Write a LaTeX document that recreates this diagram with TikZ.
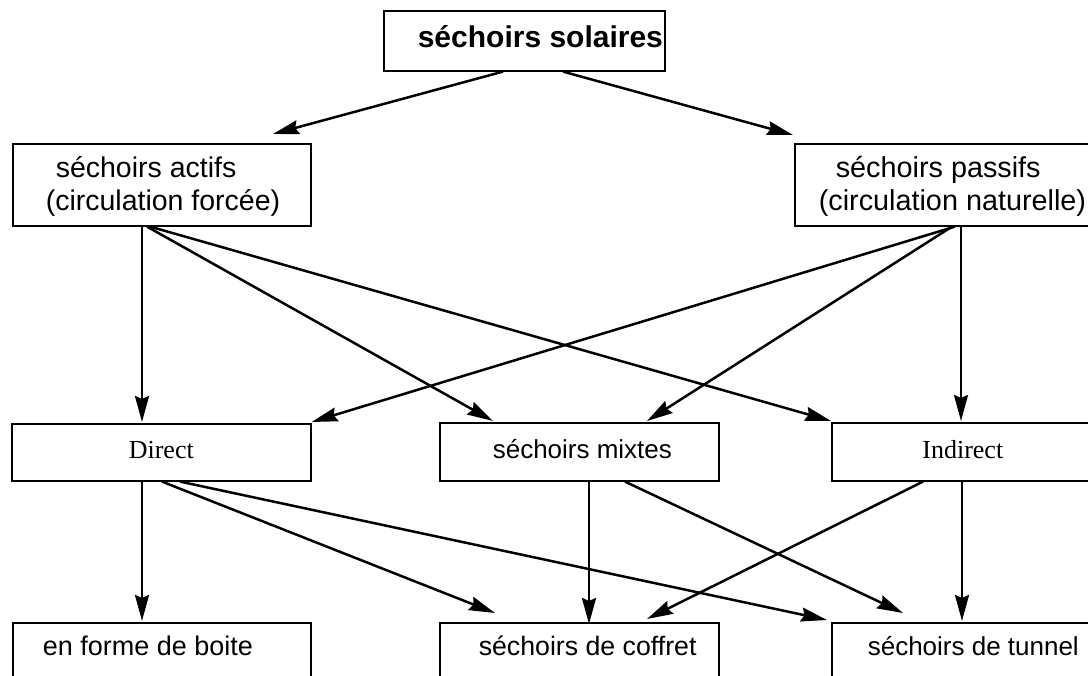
\documentclass[tikz,border=0pt]{standalone}
\usepackage{fontspec}
\setmainfont{Liberation Sans}
\newfontfamily\tmsfont{Liberation Serif}
\usetikzlibrary{arrows.meta,calc}
\newcommand\fsz[1]{\fontsize{#1}{#1}\selectfont}
\newcommand\padtxt[3]{\makebox[#1pt][l]{\hspace*{#2pt}#3}}
\begin{document}
\begin{tikzpicture}[x=1pt,y=-1pt,
  bx/.style={draw=black, line width=1.6pt, inner sep=0pt, anchor=north west},
  arr/.style={-{Stealth[length=26pt,width=14pt,inset=3pt]}, line width=2.5pt}]
\clip (0,0) rectangle (1088,676);
% boxes
\node[bx, text height=37pt, text depth=23pt] (top) at (383,10)
  {\padtxt{281}{34}{\fsz{30}\bfseries séchoirs solaires}};
\node[bx, text height=34pt, text depth=48pt] (act) at (12,143)
  {\parbox[t]{298pt}{\fontsize{28.5}{33}\selectfont\hspace*{43pt}séchoirs actifs\\\hspace*{33pt}(circulation forcée)}};
\node[bx, text height=34pt, text depth=48pt] (pas) at (794,143)
  {\parbox[t]{306pt}{\fontsize{28.8}{33}\selectfont\hspace*{41pt}séchoirs passifs\\\hspace*{24pt}(circulation naturelle)}};
\node[bx, text height=35pt, text depth=22pt] (dir) at (11,423)
  {\makebox[299pt]{\tmsfont\fsz{26}Direct}};
\node[bx, text height=36pt, text depth=22pt] (mix) at (439,422)
  {\padtxt{279}{53}{\fsz{26}séchoirs mixtes}};
\node[bx, text height=36pt, text depth=22pt] (ind) at (831,422)
  {\makebox[262pt]{\tmsfont\fsz{26}Indirect}};
\node[bx, text height=33pt, text depth=60pt] (enf) at (12,622)
  {\padtxt{298}{30}{\fsz{27}en forme de boite}};
\node[bx, text height=33pt, text depth=60pt] (cof) at (439,622)
  {\padtxt{279}{39}{\fsz{26.7}séchoirs de coffret}};
\node[bx, text height=33pt, text depth=60pt] (tun) at (831,622)
  {\padtxt{270}{36}{\fsz{26}séchoirs de tunnel}};
% connectors
\draw[arr] ($(top.south west)+(120,0)$) -- ($(act.north west)+(261,-9)$);
\draw[arr] ($(top.south west)+(180,0)$) -- ($(pas.north west)+(-1,-8)$);
\draw[arr] ($(act.south west)+(130,0)$) -- ($(dir.north west)+(131,-1)$);
\draw[arr] ($(act.south west)+(135,0)$) -- ($(mix.north west)+(54,-1)$);
\draw[arr] ($(act.south west)+(138,0)$) -- ($(ind.north west)+(0,-1)$);
\draw[arr] ($(pas.south west)+(161,0)$) -- ($(dir.north east)+(0,-1)$);
\draw[arr] ($(pas.south west)+(158,0)$) -- ($(mix.north west)+(208,-1)$);
\draw[arr] ($(pas.south west)+(167,0)$) -- ($(ind.north west)+(130,-1)$);
\draw[arr] ($(dir.south west)+(131,0)$) -- ($(enf.north west)+(130,-1)$);
\draw[arr] ($(dir.south west)+(151,0)$) -- ($(cof.north west)+(56,-9)$);
\draw[arr] ($(dir.south west)+(169,0)$) -- ($(tun.north west)+(-4,-2)$);
\draw[arr] ($(mix.south west)+(150,0)$) -- ($(cof.north west)+(150,2)$);
\draw[arr] ($(mix.south west)+(186,0)$) -- ($(tun.north west)+(72,-9)$);
\draw[arr] ($(ind.south west)+(92,0)$) -- ($(cof.north west)+(208,-3)$);
\draw[arr] ($(ind.south west)+(131,0)$) -- ($(tun.north west)+(131,-1)$);
\end{tikzpicture}
\end{document}
